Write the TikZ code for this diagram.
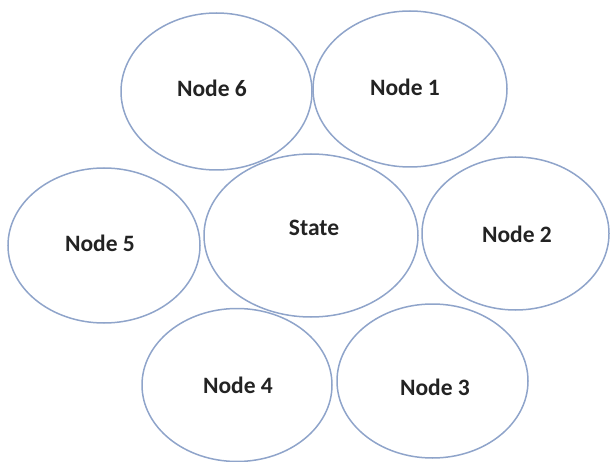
\documentclass[tikz,border=0pt]{standalone}
\usepackage{fontspec}
\setmainfont{Carlito}
\usepackage{tikz}
\usetikzlibrary{shapes.geometric}

\definecolor{ringblue}{RGB}{143,164,202}
\definecolor{labelgray}{RGB}{35,35,35}

\tikzset{
    ring/.style={ellipse, draw=ringblue, line width=1.5pt, inner sep=0pt},
    ringlabel/.style={text=labelgray, font=\fontsize{23.5}{28}\selectfont\bfseries}
}

\begin{document}
\begin{tikzpicture}[x=1pt, y=-1pt]
    \useasboundingbox (0,0) rectangle (610,462);

    % top row
    \node[ring, minimum width=191pt, minimum height=157pt] (n6) at (216.5,91.5) {};
    \node[ring, minimum width=194pt, minimum height=156pt] (n1) at (410,89) {};
    \node[ringlabel] (n6 label) at (212,88) {Node 6};
    \node[ringlabel] (n1 label) at (405,87) {Node 1};

    % middle row
    \node[ring, minimum width=192pt, minimum height=155pt] (n5) at (104,245.5) {};
    \node[ring, minimum width=214pt, minimum height=163pt] (state) at (311,235.5) {};
    \node[ring, minimum width=187pt, minimum height=153pt] (n2) at (515.5,233.5) {};
    \node[ringlabel] (n5 label) at (100,243) {Node 5};
    \node[ringlabel] (state label) at (314,228) {State};
    \node[ringlabel] (n2 label) at (517,234) {Node 2};

    % bottom row
    \node[ring, minimum width=190pt, minimum height=153pt] (n4) at (237,385) {};
    \node[ring, minimum width=191pt, minimum height=154pt] (n3) at (432.5,381) {};
    \node[ringlabel] (n4 label) at (238,385) {Node 4};
    \node[ringlabel] (n3 label) at (435,387) {Node 3};
\end{tikzpicture}
\end{document}
